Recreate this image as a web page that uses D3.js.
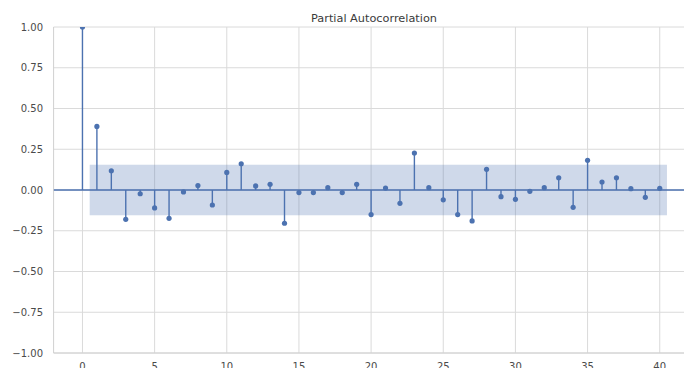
<!DOCTYPE html>
<html><head><meta charset="utf-8">
<script src="https://cdn.jsdelivr.net/npm/d3@7"></script>
<style>body{margin:0;background:#fff}svg{display:block}</style>
</head><body>
<svg id="c" width="684" height="368"></svg>
<script>
const lags = d3.range(0, 41);
const pacf = [1.0, 0.39, 0.118, -0.18, -0.023, -0.11, -0.174, -0.012, 0.027, -0.092,
  0.108, 0.161, 0.025, 0.035, -0.204, -0.016, -0.016, 0.014, -0.016, 0.035,
  -0.151, 0.012, -0.082, 0.227, 0.014, -0.06, -0.151, -0.19, 0.127, -0.041,
  -0.057, -0.008, 0.014, 0.075, -0.106, 0.182, 0.049, 0.075, 0.008, -0.045, 0.01];
const confBand = 0.155;
const xTicks = [0, 5, 10, 15, 20, 25, 30, 35, 40];
const yTicks = [-1.0, -0.75, -0.5, -0.25, 0, 0.25, 0.5, 0.75, 1.0];
const title = "Partial Autocorrelation";

const svg = d3.select("#c");
const L = 53.6, R = 688.6, T = 27, B = 353;
const x = d3.scaleLinear().domain([-2, 42]).range([L, R]);
const y = d3.scaleLinear().domain([-1, 1]).range([B, T]);
const blue = "#4c72b0";

svg.append("defs").append("clipPath").attr("id", "clip")
  .append("rect").attr("x", L).attr("y", T).attr("width", R - L).attr("height", B - T);

// grid
const g = svg.append("g");
g.selectAll(".vg").data(xTicks).enter().append("line")
  .attr("x1", d => x(d)).attr("x2", d => x(d)).attr("y1", T).attr("y2", B)
  .attr("stroke", "#dadada").attr("stroke-width", 1);
g.selectAll(".hg").data(yTicks).enter().append("line")
  .attr("x1", L).attr("x2", R).attr("y1", d => y(d)).attr("y2", d => y(d))
  .attr("stroke", "#dadada").attr("stroke-width", 1);
// spines
g.append("line").attr("x1", L).attr("x2", L).attr("y1", T).attr("y2", B).attr("stroke", "#d0d0d0");
g.append("line").attr("x1", L).attr("x2", R).attr("y1", B).attr("y2", B).attr("stroke", "#d0d0d0");

const p = svg.append("g").attr("clip-path", "url(#clip)");
// confidence band
p.append("rect").attr("x", x(0.5)).attr("width", x(40.5) - x(0.5))
  .attr("y", y(confBand)).attr("height", y(-confBand) - y(confBand))
  .attr("fill", blue).attr("fill-opacity", 0.27);
// zero line
p.append("line").attr("x1", L).attr("x2", R).attr("y1", y(0)).attr("y2", y(0))
  .attr("stroke", blue).attr("stroke-width", 1.3);
// stems
p.selectAll(".st").data(lags).enter().append("line")
  .attr("x1", d => x(d)).attr("x2", d => x(d))
  .attr("y1", y(0)).attr("y2", d => y(pacf[d]))
  .attr("stroke", blue).attr("stroke-width", 1.4);
p.selectAll(".mk").data(lags).enter().append("circle")
  .attr("cx", d => x(d)).attr("cy", d => y(pacf[d])).attr("r", 2.6)
  .attr("fill", blue);

// y axis labels
const fmt = d => (d < 0 ? "\u2212" : "") + Math.abs(d).toFixed(2);
svg.selectAll(".yl").data(yTicks).enter().append("text")
  .attr("x", 43).attr("y", d => y(d) + 3.6).attr("text-anchor", "end")
  .attr("font-family", "DejaVu Sans").attr("font-size", 10).attr("fill", "#4a4a4a")
  .text(fmt);
svg.selectAll(".xl").data(xTicks).enter().append("text")
  .attr("x", d => x(d)).attr("y", 369.5).attr("text-anchor", "middle")
  .attr("font-family", "DejaVu Sans").attr("font-size", 10).attr("fill", "#4a4a4a")
  .text(d => d);
svg.append("text").attr("x", 374).attr("y", 22).attr("text-anchor", "middle")
  .attr("font-family", "DejaVu Sans").attr("font-size", 11.3).attr("fill", "#3a3a3a")
  .text(title);
</script>
</body></html>
